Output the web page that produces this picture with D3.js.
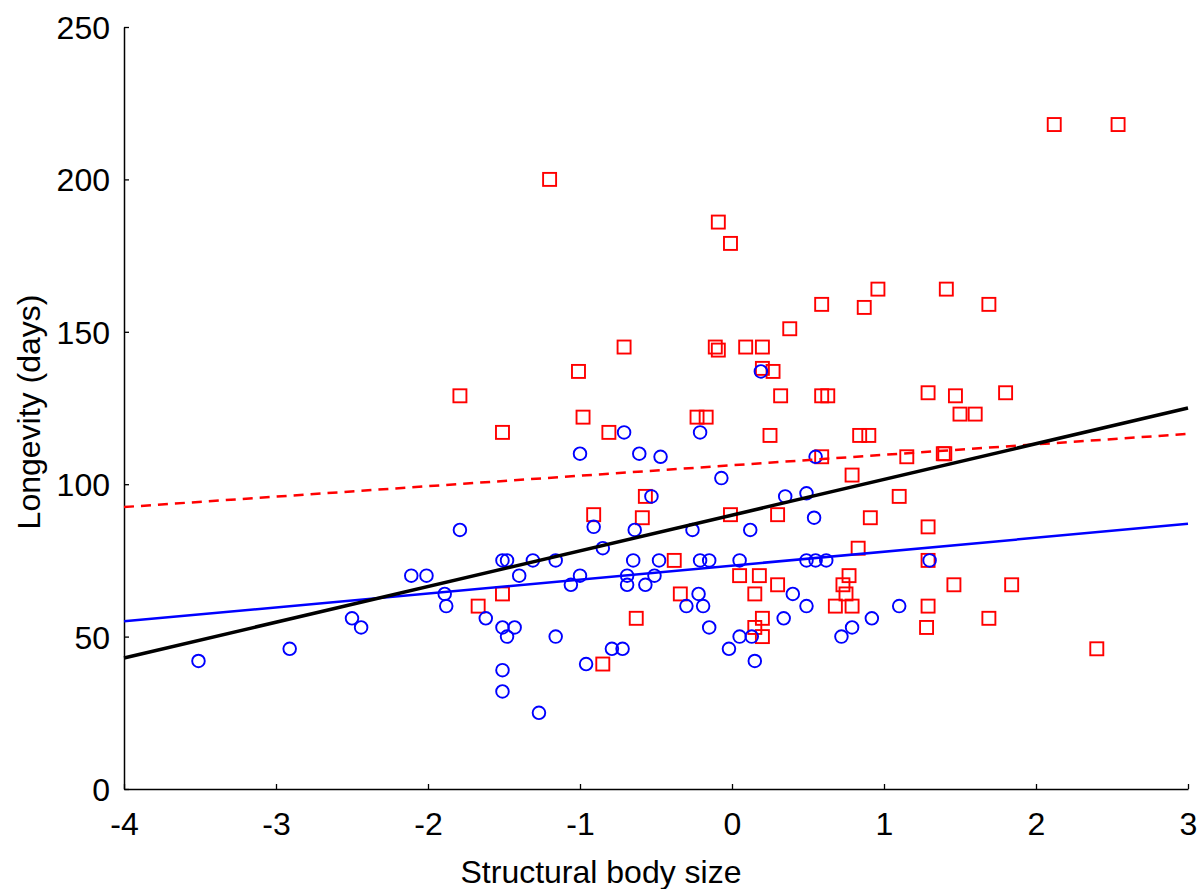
<!DOCTYPE html>
<html>
<head>
<meta charset="utf-8">
<script src="https://cdn.jsdelivr.net/npm/d3@7"></script>
<style>
  body { margin: 0; background: #fff; }
  text { font-family: "Liberation Sans", Arial, sans-serif; fill: #000; }
</style>
</head>
<body>
<svg></svg>
<script>
// circles (blue)
let blueX = [-3.51, -2.91, -2.50, -2.44, -2.11, -2.01, -1.89, -1.88, -1.79, -1.62,
  -1.51, -1.48, -1.40, -1.31, -1.51, -1.43, -1.48, -1.51, -1.51, -1.27,
  -0.71, -1.00, -0.61, -0.47, -0.21, -0.07, 0.19, 0.55, 0.35, 0.49,
  0.54, -0.53, -0.91, -0.64, -0.26, 0.12, -1.16, -1.06, -1.00, -0.85,
  -0.65, -0.69, -0.69, -0.57, -0.51, -0.48, -0.21, -0.15, 0.05, 0.49,
  0.55, 0.62, -0.22, -0.30, -0.19, -0.15, 0.40, 0.49, 0.34, 1.10,
  0.92, 0.79, 0.72, -1.16, -0.79, -0.72, -0.96, 0.05, 0.13, -0.02,
  0.15, 1.30];
let blueY = [42, 46, 56, 53, 70, 70, 64, 60, 85, 56,
  75, 75, 70, 75, 53, 53, 50, 39, 32, 25,
  117, 110, 110, 109, 117, 102, 137, 109, 96, 97,
  89, 96, 86, 85, 85, 85, 75, 67, 70, 79,
  75, 70, 67, 67, 70, 75, 75, 75, 75, 75,
  75, 75, 64, 60, 60, 53, 64, 60, 56, 60,
  56, 53, 50, 50, 46, 46, 41, 50, 50, 46,
  42, 75];

// squares (red)
let redX = [-1.67, -1.51, -1.79, -1.51, -1.20, -0.09, -0.01, 0.96, 0.59, 0.87,
  0.38, -0.71, -0.11, -0.09, 0.09, 0.20, -1.01, 0.20, 0.27, 0.32,
  0.59, 0.63, -0.98, -0.23, -0.17, -0.81, 0.25, 0.84, 0.90, 0.59,
  1.15, 0.79, 1.10, -0.57, -0.91, -0.59, -0.01, 0.30, 0.91, -0.38,
  -0.34, -0.63, -0.85, 0.05, 0.18, 0.30, 0.15, 0.20, 0.15, 0.20,
  0.83, 0.77, 0.73, 0.75, 0.68, 0.79, 1.41, 1.69, 1.29, 1.47,
  1.80, 1.50, 1.60, 1.39, 1.40, 1.29, 1.29, 1.46, 1.84, 1.29,
  1.28, 1.69, 2.40, 2.12, 2.54];
let redY = [60, 64, 129, 117, 200, 186, 179, 164, 159, 158,
  151, 145, 145, 144, 145, 145, 137, 138, 137, 129,
  129, 129, 122, 122, 122, 117, 116, 116, 116, 109,
  109, 103, 96, 96, 90, 89, 90, 90, 89, 75,
  64, 56, 41, 70, 70, 67, 64, 56, 53, 50,
  79, 70, 67, 64, 60, 60, 164, 159, 130, 129,
  130, 123, 123, 110, 110, 86, 75, 67, 67, 60,
  53, 56, 46, 218, 218];

// fitted lines: value at x = -4 and x = 3
let lineEnds = [-4, 3];
let allFit = [43, 125];
let blueFit = [55, 87];
let redFit = [92.5, 116.5];

let xTicks = [-4, -3, -2, -1, 0, 1, 2, 3];
let yTicks = [0, 50, 100, 150, 200, 250];

let width = 1199,
height = 889,
margin = {top: 27, right: 11, bottom: 100, left: 124};

let svg = d3.select("svg")
  .attr("width", width)
  .attr("height", height);

let xScale = d3.scaleLinear().domain([-4, 3]).range([margin.left, width - margin.right]);
let yScale = d3.scaleLinear().domain([0, 250]).range([height - margin.bottom, margin.top]);

let xAxis = d3.axisBottom(xScale).tickValues(xTicks).tickFormat(d => String(d))
  .tickSize(-5).tickSizeOuter(0).tickPadding(14);
let yAxis = d3.axisLeft(yScale).tickValues(yTicks).tickFormat(d => String(d))
  .tickSize(-5).tickSizeOuter(0).tickPadding(14);

let gx = svg.append("g")
  .attr("transform", `translate(0, ${height - margin.bottom})`)
  .call(xAxis);
let gy = svg.append("g")
  .attr("transform", `translate(${margin.left}, 0)`)
  .call(yAxis);

[gx, gy].forEach(g => {
  g.select(".domain").attr("stroke", "#000").attr("stroke-width", 1.5);
  g.selectAll(".tick line").attr("stroke", "#000").attr("stroke-width", 1.3);
  g.selectAll(".tick text").style("font-size", "32px").attr("fill", "#000");
});
gx.selectAll(".tick text").attr("dy", "1.0em");
gy.selectAll(".tick text").attr("dy", "0.36em");

// axis titles
svg.append("text")
  .attr("x", 601)
  .attr("y", 883)
  .attr("text-anchor", "middle")
  .style("font-size", "32px")
  .text("Structural body size");

svg.append("text")
  .attr("transform", "translate(40, 412) rotate(-90)")
  .attr("text-anchor", "middle")
  .style("font-size", "32px")
  .text("Longevity (days)");

// points
let blue = blueX.map((x, i) => ({x: x, y: blueY[i]}));
let red = redX.map((x, i) => ({x: x, y: redY[i]}));
let sq = 13;

svg.append("g")
  .selectAll("rect")
  .data(red)
  .enter()
  .append("rect")
  .attr("x", d => xScale(d.x) - sq / 2)
  .attr("y", d => yScale(d.y) - sq / 2)
  .attr("width", sq)
  .attr("height", sq)
  .attr("fill", "none")
  .attr("stroke", "#ff0000")
  .attr("stroke-width", 1.9);

svg.append("g")
  .selectAll("circle")
  .data(blue)
  .enter()
  .append("circle")
  .attr("cx", d => xScale(d.x))
  .attr("cy", d => yScale(d.y))
  .attr("r", 6.3)
  .attr("fill", "none")
  .attr("stroke", "#0000ff")
  .attr("stroke-width", 1.9);

// regression lines
let line = d3.line().x(d => xScale(d[0])).y(d => yScale(d[1]));
let fits = [
  {vals: redFit, color: "#ff0000", w: 2.5, dash: "10,7"},
  {vals: blueFit, color: "#0000ff", w: 2.5, dash: null},
  {vals: allFit, color: "#000", w: 3.5, dash: null}
];
fits.forEach(f => {
  svg.append("path")
    .datum(lineEnds.map((x, i) => [x, f.vals[i]]))
    .attr("d", line)
    .attr("fill", "none")
    .attr("stroke", f.color)
    .attr("stroke-width", f.w)
    .attr("stroke-dasharray", f.dash);
});
</script>
</body>
</html>
